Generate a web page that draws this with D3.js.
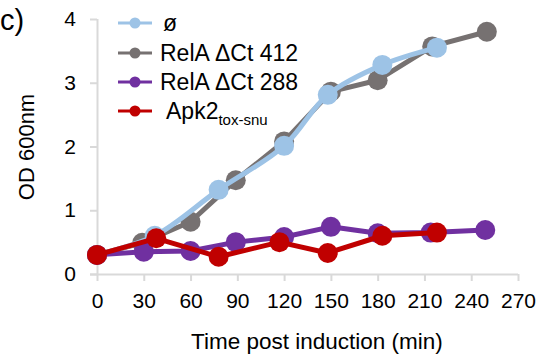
<!DOCTYPE html>
<html><head><meta charset="utf-8">
<script src="https://cdn.jsdelivr.net/npm/d3@7"></script>
<style>body{margin:0;background:#fff}svg{display:block;font-family:"Liberation Sans",Arial,sans-serif}</style>
</head><body><svg id="c" width="540" height="360"></svg>
<script>
const xTicks = [0,30,60,90,120,150,180,210,240,270];
const yTicks = [0,1,2,3,4];
const seriesNames = ["ø","RelA ΔCt 412","RelA ΔCt 288","Apk2"];
const seriesColors = ["#9DC3E6","#767171","#7030A0","#C00000"];
const blueT = [0,37,78,120,148,183,218];
const blueV = [0.30,0.60,1.32,2.01,2.81,3.28,3.55];
const greyT = [0,29,60,89,120,150,180,215,250];
const greyV = [0.30,0.49,0.82,1.47,2.08,2.86,3.04,3.57,3.80];
const purpleT = [0,30,60,89,120,150,180,214,249];
const purpleV = [0.30,0.35,0.36,0.50,0.58,0.74,0.64,0.65,0.69];
const redT = [0,38,78,117,148,183,218];
const redV = [0.30,0.56,0.27,0.50,0.33,0.60,0.65];

const svg = d3.select("#c");
const x = d3.scaleLinear().domain([0,270]).range([97,518]);
const y = d3.scaleLinear().domain([0,4]).range([274,19]);
const axisCol = "#d9d9d9";
const FONT = "Liberation Sans, Arial, sans-serif";

// axes
const gx = svg.append("g").attr("transform","translate(0,274)")
  .call(d3.axisBottom(x).tickValues(xTicks).tickFormat(d3.format("d")).tickSize(7).tickPadding(12));
gx.select(".domain").attr("d","M90,0.5H518").attr("stroke",axisCol).attr("stroke-width",2);
gx.selectAll(".tick line").attr("stroke",axisCol).attr("stroke-width",2);
gx.selectAll(".tick text").attr("font-size",21).attr("fill","#000").attr("font-family",FONT);

const gy = svg.append("g").attr("transform","translate(97,0)")
  .call(d3.axisLeft(y).tickValues(yTicks).tickFormat(d3.format("d")).tickSize(7).tickPadding(14));
gy.select(".domain").attr("d","M0.5,274V19").attr("stroke",axisCol).attr("stroke-width",2);
gy.selectAll(".tick line").attr("stroke",axisCol).attr("stroke-width",2);
gy.selectAll(".tick text").attr("font-size",21).attr("fill","#000").attr("font-family",FONT);

// series
const series = [
  {t:greyT, v:greyV, c:seriesColors[1], curve:d3.curveLinear},
  {t:blueT, v:blueV, c:seriesColors[0], curve:d3.curveCatmullRom},
  {t:purpleT, v:purpleV, c:seriesColors[2], curve:d3.curveLinear},
  {t:redT, v:redV, c:seriesColors[3], curve:d3.curveLinear}
];
series.forEach(s=>{
  const pts = s.t.map((t,i)=>[t,s.v[i]]);
  const line = d3.line().x(d=>x(d[0])).y(d=>y(d[1])).curve(s.curve);
  svg.append("path").attr("d",line(pts)).attr("fill","none").attr("stroke",s.c)
    .attr("stroke-width",5).attr("stroke-linejoin","round");
  svg.append("g").selectAll("circle").data(pts).join("circle")
    .attr("cx",d=>x(d[0])).attr("cy",d=>y(d[1])).attr("r",10).attr("fill",s.c);
});

// legend
const legY = [23,53,82,111];
seriesNames.forEach((n,i)=>{
  const g = svg.append("g");
  g.append("line").attr("x1",118).attr("x2",152).attr("y1",legY[i]).attr("y2",legY[i])
    .attr("stroke",seriesColors[i]).attr("stroke-width",3);
  g.append("circle").attr("cx",135).attr("cy",legY[i]).attr("r",5.5).attr("fill",seriesColors[i]);
  const tx = g.append("text").attr("x", i===0?163:(i===3?166:160)).attr("y",legY[i]+8)
    .attr("font-size",23).attr("fill","#000");
  tx.append("tspan").text(n);
  if(i===3){ tx.append("tspan").attr("font-size",15).attr("dy",6).text("tox-snu"); }
});

// titles
svg.append("text").attr("x",317).attr("y",349).attr("text-anchor","middle")
  .attr("font-size",22.5).attr("fill","#000").text("Time post induction (min)");
svg.append("text").attr("transform","translate(34,147) rotate(-90)").attr("text-anchor","middle")
  .attr("font-size",22).attr("fill","#000").text("OD 600nm");
svg.append("text").attr("x",0).attr("y",30).attr("font-size",29).attr("fill","#000").text("c)");
</script></body></html>
